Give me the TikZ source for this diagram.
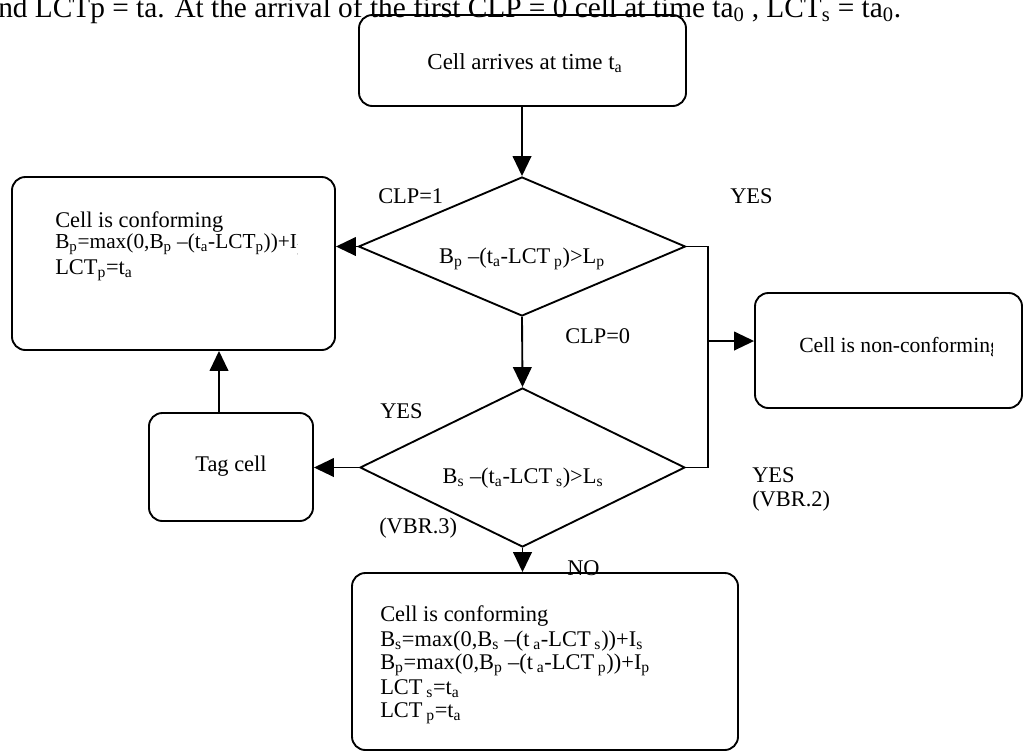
\documentclass[tikz,border=0pt]{standalone}
\usepackage{fontspec}
\setmainfont{Liberation Serif}
\usetikzlibrary{arrows.meta,shapes.geometric}
\newcommand{\sbs}[1]{\textsubscript{#1}}
\begin{document}
\begin{tikzpicture}[x=0.75pt,y=-0.75pt,
  box/.style={draw, line width=1.4pt, rounded corners=10pt, inner sep=0pt},
  dia/.style={draw, diamond, line width=1.4pt, inner sep=0pt},
  conn/.style={line width=1.4pt},
  arr/.style={line width=1.4pt, -{Triangle[length=15pt,width=14pt]}},
  txt/.style={font=\fontsize{16.8}{20}\selectfont, inner sep=0pt},
  ltxt/.style={txt, anchor=base west},
  ctxt/.style={txt, anchor=base},
]
\useasboundingbox (0,0) rectangle (1024,754);

% header text
\node[anchor=base west, inner sep=0pt, font=\fontsize{22}{26}\selectfont] (head) at (-2,17)
  {nd LCTp = ta. At the arrival of the first CLP = 0 cell at time ta\sbs{0} , LCT\sbs{s} = ta\sbs{0}.};

% boxes
\node[box, minimum width=245.25pt, minimum height=68.25pt] (top) at (522.5,60.5) {};
\node[box, minimum width=242.25pt, minimum height=129.75pt] (left) at (173.5,263.5) {};
\node[box, minimum width=123pt, minimum height=81pt] (tag) at (231,467) {};
\node[box, minimum width=200.25pt, minimum height=86.25pt] (nc) at (888.5,350.5) {};
\node[box, minimum width=289.5pt, minimum height=132.75pt] (bot) at (545,661.5) {};

% diamonds
\node[dia, minimum width=245.25pt, minimum height=104.25pt] (d1) at (522,246.5) {};
\node[dia, minimum width=243.75pt, minimum height=119.25pt] (d2) at (522.5,467.5) {};

% texts
\node[ctxt, font=\fontsize{17.2}{20}\selectfont] (ttop) at (525,69) {Cell arrives at time t\sbs{a}};
\node[ctxt] (td1) at (522,263) {B\sbs{p} –(t\sbs{a}-LCT\,\sbs{p})>L\sbs{p}};
\node[ctxt] (td2) at (523,483) {B\sbs{s} –(t\sbs{a}-LCT\,\sbs{s})>L\sbs{s}};
\node[ctxt] (ttag) at (231,471) {Tag cell};
\begin{scope}
  \clip (760,290) rectangle (992,410);
  \node[ltxt, font=\fontsize{16.2}{20}\selectfont] (tnc) at (799,352) {Cell is non-conforming};
\end{scope}
\node[ltxt] (tl1) at (55,227) {Cell is conforming};
\begin{scope}
  \clip (20,200) rectangle (297,260);
  \node[ltxt, font=\fontsize{16}{20}\selectfont] (tl2) at (55,248) {B\sbs{p}=max(0,B\sbs{p} –(t\sbs{a}-LCT\sbs{p}))+I\sbs{p}};
\end{scope}
\node[ltxt] (tl3) at (55,274) {LCT\sbs{p}=t\sbs{a}};
\node[ltxt] (tb1) at (380,621) {Cell is conforming};
\node[ltxt] (tb2) at (380,646) {B\sbs{s}=max(0,B\sbs{s} –(t\,\sbs{a}-LCT\,\sbs{s}))+I\sbs{s}};
\node[ltxt] (tb3) at (380,669) {B\sbs{p}=max(0,B\sbs{p} –(t\,\sbs{a}-LCT\,\sbs{p}))+I\sbs{p}};
\node[ltxt] (tb4) at (380,694) {LCT\,\sbs{s}=t\sbs{a}};
\node[ltxt] (tb5) at (380,717) {LCT\,\sbs{p}=t\sbs{a}};

% labels
\node[ltxt] (clp1) at (378,203) {CLP=1};
\node[ltxt] (yes1) at (730,203) {YES};
\node[ltxt] (clp0) at (565,343) {CLP=0};
\node[ltxt] (yes2) at (380,418) {YES};
\node[ltxt] (vbr3) at (379,533) {(VBR.3)};
\node[ltxt] (no) at (567,575) {NO};
\node[ltxt] (yes3) at (752,482) {YES};
\node[ltxt] (vbr2) at (752,506) {(VBR.2)};

% connectors
\coordinate (jt) at (708,246.5);
\coordinate (jb) at (708,467.5);
\coordinate (jm) at (708,341);
\coordinate (tu) at (219,413);
\draw[arr] (top.south -| d1.north) -- (d1.north);
\draw[arr] (d1.west) -- (d1.west -| left.east);
\draw[arr] (d1.south) -- (d2.north);
\draw[conn] (d1.east) -- (jt) -- (jb) -- (d2.east);
\draw[arr] (jm) -- (jm -| nc.west);
\draw[arr] (d2.west) -- (d2.west -| tag.east);
\draw[arr] (tu) -- (tu |- left.south);
\draw[arr] (d2.south) -- (d2.south |- bot.north);
\end{tikzpicture}
\end{document}
